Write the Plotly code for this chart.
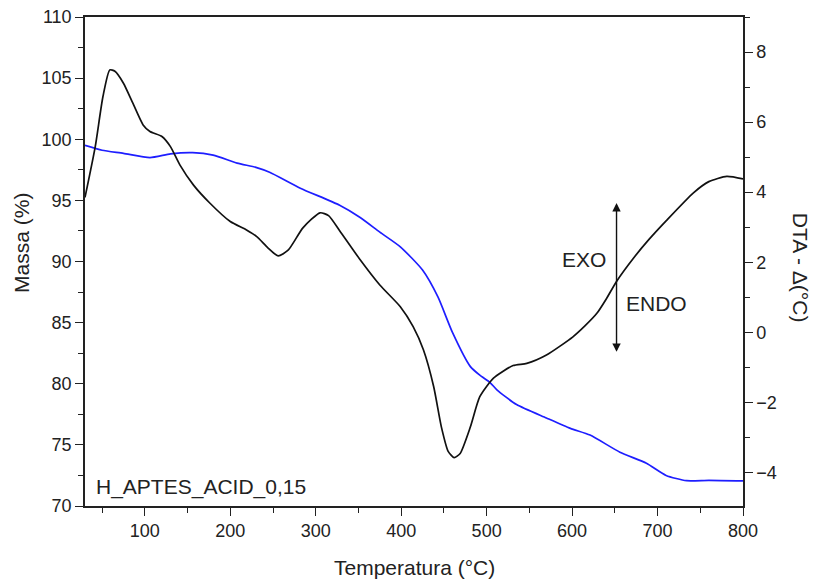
import plotly.graph_objects as go

# ---- data ----
dta_temp = [30, 42, 51, 59, 65, 75, 86, 98, 106, 120, 130, 141, 157, 176, 200, 219, 231,
            244, 256, 268, 285, 305, 315, 328, 352, 375, 399, 414, 426, 438, 447, 455, 462,
            469, 481, 492, 508, 531, 547, 570, 601, 615, 629, 640, 652, 672, 690, 710, 742, 760, 781, 800]
dta_vals = [3.85, 5.3, 6.73, 7.49, 7.45, 7.11, 6.54, 5.92, 5.73, 5.59, 5.3, 4.78, 4.2, 3.69, 3.16, 2.92, 2.73,
            2.41, 2.18, 2.35, 2.98, 3.41, 3.33, 2.9, 2.07, 1.35, 0.73, 0.16, -0.5, -1.55, -2.7, -3.4, -3.58,
            -3.46, -2.7, -1.84, -1.31, -0.95, -0.89, -0.65, -0.13, 0.18, 0.54, 0.95, 1.45, 2.12, 2.65, 3.18, 3.98, 4.3, 4.45, 4.38]

mass_temp = [30, 50, 75, 106, 130, 156, 180, 208, 230, 246, 282, 328, 352, 375, 399, 425, 443,
             460, 481, 492, 504, 512, 535, 570, 598, 621, 656, 687, 710, 734, 760, 800]
mass_vals = [99.5, 99.1, 98.85, 98.5, 98.8, 98.9, 98.7, 98.05, 97.7, 97.3, 96.0, 94.6, 93.6, 92.4, 91.2, 89.3, 87.1,
             84.2, 81.4, 80.7, 80.1, 79.5, 78.3, 77.2, 76.35, 75.8, 74.4, 73.5, 72.5, 72.07, 72.1, 72.05]

x_range = [30, 800]
mass_range = [70, 110]
dta_range = [-4.96, 9.0]

sample_label = "H_APTES_ACID_0,15"
arrow_temp = 652
arrow_top = 3.69
arrow_bottom = -0.6

FONT = "Liberation Sans, Arial, sans-serif"
TXT = "#222222"

fig = go.Figure()
fig.add_trace(go.Scatter(x=mass_temp, y=mass_vals, mode="lines",
                         line=dict(color="rgb(30,30,255)", width=1.7, shape="spline", smoothing=0.6),
                         yaxis="y", showlegend=False))
fig.add_trace(go.Scatter(x=dta_temp, y=dta_vals, mode="lines",
                         line=dict(color="#111111", width=1.7, shape="spline", smoothing=0.6),
                         yaxis="y2", showlegend=False))

axis_common = dict(showgrid=False, zeroline=False, showline=True, linecolor="#222222", linewidth=1.5,
                   ticks="outside", tickcolor="#222222", tickwidth=1.3, ticklen=8, automargin=False,
                   tickfont=dict(family=FONT, size=18, color=TXT))

fig.update_layout(
    width=815, height=583,
    margin=dict(l=85, r=72, t=17, b=77, autoexpand=False),
    paper_bgcolor="white", plot_bgcolor="white",
    xaxis=dict(range=x_range, tickmode="linear", tick0=0, dtick=100, mirror=True,
               minor=dict(ticks="outside", dtick=50, tick0=0, ticklen=5, tickcolor="#222222", tickwidth=1.3),
               **axis_common),
    yaxis=dict(range=mass_range, tickmode="linear", tick0=70, dtick=5,
               minor=dict(ticks="outside", dtick=2.5, tick0=70, ticklen=5, tickcolor="#222222", tickwidth=1.3),
               **axis_common),
    yaxis2=dict(range=dta_range, overlaying="y", side="right", tickmode="linear", tick0=0, dtick=2,
                minor=dict(ticks="outside", dtick=1, tick0=0, ticklen=5, tickcolor="#222222", tickwidth=1.3),
                **axis_common),
)

annotations = [
    dict(text="Massa (%)", xref="paper", yref="paper", x=-0.0957, y=0.538, textangle=-90,
         showarrow=False, font=dict(family=FONT, size=21, color=TXT), xanchor="center", yanchor="middle"),
    dict(text="Temperatura (°C)", xref="paper", yref="paper", x=0.5, y=-0.125,
         showarrow=False, font=dict(family=FONT, size=21, color=TXT), xanchor="center", yanchor="middle"),
    dict(text="DTA - Δ(°C)", xref="paper", yref="paper", x=1.0866, y=0.487, textangle=90,
         showarrow=False, font=dict(family=FONT, size=21, color=TXT), xanchor="center", yanchor="middle"),
    dict(text=sample_label, xref="x", yref="y", x=41, y=71.55, xanchor="left", yanchor="middle",
         showarrow=False, font=dict(family=FONT, size=21, color=TXT)),
    dict(text="EXO", xref="x", yref="y2", x=642, y=2.07, xanchor="right", yanchor="middle",
         showarrow=False, font=dict(family=FONT, size=21, color=TXT)),
    dict(text="ENDO", xref="x", yref="y2", x=661, y=0.83, xanchor="left", yanchor="middle",
         showarrow=False, font=dict(family=FONT, size=21, color=TXT)),
    dict(text="", xref="x", yref="y2", x=arrow_temp, y=arrow_top, axref="x", ayref="y2",
         ax=arrow_temp, ay=arrow_bottom, showarrow=True, arrowhead=2, startarrowhead=2,
         arrowside="end+start", arrowsize=1.2, arrowwidth=1.4, arrowcolor="#111111",
         startstandoff=0, standoff=0),
]
fig.update_layout(annotations=annotations)

fig.write_html("out.html", config={"displayModeBar": False},
               post_script="document.body.style.margin='0px';document.body.style.padding='0px';"
                           "document.body.style.overflow='hidden';")
